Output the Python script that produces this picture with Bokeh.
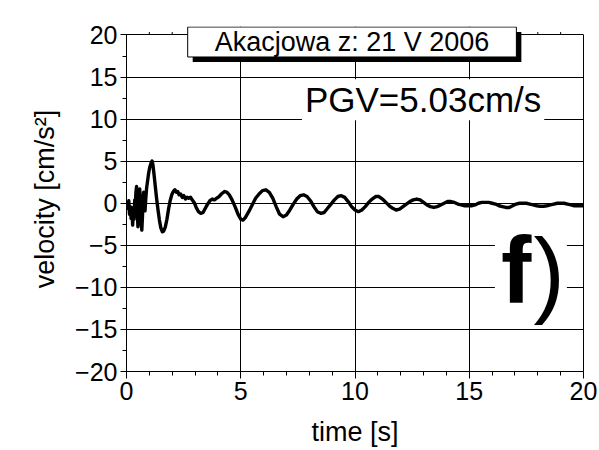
from bokeh.plotting import figure
from bokeh.models import (Range1d, SingleIntervalTicker, LinearAxis, Label,
                          ColumnDataSource, Grid)
from bokeh.embed import file_html
from bokeh.resources import INLINE

# ---- data ----
t_s = [0.00, 0.05, 0.10, 0.13, 0.17, 0.20, 0.24, 0.27, 0.30, 0.33, 0.36, 0.38,
       0.41, 0.44, 0.47, 0.50, 0.52, 0.55, 0.58, 0.61, 0.64, 0.67, 0.70, 0.72,
       0.75, 0.78, 0.81, 0.84, 0.88, 0.92, 0.97, 1.02, 1.08, 1.12, 1.16, 1.21,
       1.26, 1.32, 1.38, 1.44, 1.50, 1.57, 1.63, 1.70, 1.77, 1.84, 1.91, 1.98,
       2.05, 2.12, 2.18, 2.24, 2.30, 2.37, 2.44, 2.51, 2.58, 2.65, 2.72, 2.80,
       2.88, 2.96, 3.05, 3.15, 3.25, 3.35, 3.45, 3.55, 3.65, 3.75, 3.85, 3.95,
       4.05, 4.15, 4.30, 4.40, 4.50, 4.62, 4.75, 4.88, 5.00, 5.10, 5.20, 5.35,
       5.50, 5.65, 5.80, 5.95, 6.10, 6.25, 6.40, 6.55, 6.70, 6.85, 7.00, 7.15,
       7.30, 7.45, 7.60, 7.75, 7.90, 8.05, 8.20, 8.35, 8.50, 8.65, 8.80, 8.95,
       9.10, 9.25, 9.40, 9.55, 9.70, 9.85, 10.00, 10.15, 10.30, 10.45, 10.60,
       10.75, 10.90, 11.05, 11.20, 11.35, 11.50, 11.65, 11.80, 11.95, 12.10,
       12.25, 12.40, 12.55, 12.70, 12.85, 13.00, 13.15, 13.30, 13.45, 13.60,
       13.75, 13.90, 14.05, 14.20, 14.35, 14.50, 14.65, 14.80, 14.95, 15.10,
       15.25, 15.40, 15.55, 15.70, 15.85, 16.00, 16.15, 16.30, 16.45, 16.60,
       16.75, 16.90, 17.05, 17.20, 17.35, 17.50, 17.65, 17.80, 17.95, 18.10,
       18.25, 18.40, 18.55, 18.70, 18.85, 19.00, 19.15, 19.30, 19.45, 19.60,
       19.75, 19.90, 20.00]
vel = [0.0, -0.6, 0.3, -1.3, -0.4, -1.8, -0.8, -2.6, -0.5, -1.9, 0.4, -1.0,
       1.2, 2.0, -0.8, -2.8, -1.2, 0.9, 1.7, -0.6, -2.2, -3.2, -1.5, 0.5,
       1.3, 0.2, -0.9, 0.4, 1.8, 2.6, 3.6, 4.3, 4.8, 5.03, 4.5, 3.3,
       2.0, 0.5, -0.8, -2.0, -2.9, -3.4, -3.3, -2.8, -1.9, -0.7, 0.3, 1.0,
       1.4, 1.6, 1.3, 1.4, 1.0, 1.1, 0.7, 0.9, 0.5, 0.7, 0.6, 0.7,
       0.4, 0.1, -0.5, -1.0, -1.2, -1.1, -0.6, -0.1, 0.3, 0.5, 0.4, 0.6,
       0.8, 1.1, 1.4, 1.3, 1.0, 0.4, -0.4, -1.3, -1.9, -2.0, -1.7, -1.0,
       -0.2, 0.6, 1.1, 1.5, 1.6, 1.3, 0.6, -0.4, -1.3, -1.6, -1.4, -0.8,
       -0.1, 0.5, 0.9, 1.0, 0.8, 0.3, -0.4, -1.0, -1.2, -1.1, -0.6, -0.1,
       0.4, 0.8, 0.9, 0.7, 0.2, -0.4, -0.8, -1.0, -0.8, -0.4, 0.1,
       0.5, 0.8, 0.8, 0.5, 0.1, -0.3, -0.6, -0.8, -0.7, -0.4,
       -0.1, 0.2, 0.4, 0.5, 0.4, 0.1, -0.2, -0.4, -0.5, -0.4,
       -0.2, 0.0, 0.2, 0.2, 0.1, -0.1, -0.2, -0.3, -0.3, -0.3,
       -0.2, 0.0, 0.1, 0.1, 0.1, 0.0, -0.1, -0.3, -0.4, -0.5,
       -0.5, -0.3, -0.1, 0.0, 0.0, 0.0, -0.1, -0.2, -0.3, -0.35,
       -0.35, -0.3, -0.2, -0.1, 0.0, 0.0, 0.0, -0.1, -0.2, -0.3,
       -0.3, -0.3, -0.3]

x_limits = (0, 20)
y_limits = (-20, 20)
title_text = "Akacjowa z: 21 V 2006"
pgv_text = "PGV=5.03cm/s"
panel_letter = "f"
x_label = "time [s]"
y_label = "velocity [cm/s\u00b2]"

FONT = "Liberation Sans"

# the frame is extended a little above y=20 so the title box (which sits
# across the top border) is not clipped; the real border is drawn at y=20
Y_HEAD = 1.01

p = figure(width=599, height=450, output_backend="svg", toolbar_location=None,
           x_range=Range1d(*x_limits),
           y_range=Range1d(y_limits[0], y_limits[1] + Y_HEAD),
           min_border_left=126, min_border_right=16, min_border_top=26,
           min_border_bottom=79, x_axis_location=None, y_axis_location=None)
p.background_fill_color = "white"
p.border_fill_color = "white"
p.outline_line_color = None

xt = SingleIntervalTicker(interval=5, num_minor_ticks=5)
yt = SingleIntervalTicker(interval=5, num_minor_ticks=2)

xaxis = LinearAxis(ticker=xt, axis_label=x_label)
yaxis = LinearAxis(ticker=yt, axis_label=y_label, bounds=y_limits)
raxis = LinearAxis(ticker=yt, bounds=y_limits,
                   major_label_overrides={-20: "", -15: "", -10: "", -5: "",
                                          0: "", 5: "", 10: "", 15: "", 20: ""})
for ax in (xaxis, yaxis, raxis):
    ax.axis_line_color = "black"
    ax.axis_line_width = 1
    ax.major_tick_line_color = "black"
    ax.minor_tick_line_color = "black"
    ax.major_label_text_font = FONT
    ax.major_label_text_font_size = "25px"
    ax.major_label_text_color = "black"
    ax.axis_label_text_font = FONT
    ax.axis_label_text_font_size = "27px"
    ax.axis_label_text_font_style = "normal"
    ax.axis_label_text_color = "black"
xaxis.major_tick_out = 7
xaxis.major_tick_in = 0
xaxis.minor_tick_out = 4
xaxis.minor_tick_in = 0
xaxis.major_label_standoff = 3
xaxis.axis_label_standoff = 14
yaxis.major_tick_out = 6
yaxis.major_tick_in = 2
yaxis.minor_tick_out = 4
yaxis.minor_tick_in = 0
yaxis.major_label_standoff = 3
yaxis.axis_label_standoff = 12
raxis.major_tick_out = 0
raxis.major_tick_in = 0
raxis.minor_tick_out = 0
raxis.minor_tick_in = 0
raxis.major_label_standoff = 0

p.add_layout(xaxis, "below")
p.add_layout(yaxis, "left")
p.add_layout(raxis, "right")

# major grid (the y=20 grid line also forms the top border)
p.add_layout(Grid(dimension=0, ticker=xt, grid_line_color="black",
                  grid_line_width=1))
p.add_layout(Grid(dimension=1, ticker=yt, grid_line_color="black",
                  grid_line_width=1))

# outward minor ticks on the top border (3 px long)
top_minor = [float(k) for k in range(x_limits[0] + 1, x_limits[1])
             if k % 5 != 0]
tick_len = 3.0 / 8.4
p.segment(x0=top_minor, y0=[y_limits[1]] * len(top_minor),
          x1=top_minor, y1=[y_limits[1] + tick_len] * len(top_minor),
          line_color="black", line_width=1)

src = ColumnDataSource(data=dict(t=t_s, v=vel))
p.line("t", "v", source=src, line_color="black", line_width=3.4,
       line_join="round")

# PGV label with white background
p.add_layout(Label(x=12.98, y=12.3, text=pgv_text, text_font=FONT,
                   text_font_size="35px", text_align="center",
                   text_baseline="middle", text_color="black",
                   background_fill_color="white", padding=(3, 1)))

# panel letter "f)"
p.add_layout(Label(x=17.07, y=-8.0, text=panel_letter, text_font=FONT,
                   text_font_size="94px", text_font_style="bold",
                   text_align="center", text_baseline="middle",
                   text_color="black", background_fill_color="white",
                   padding=(6, 0)))
p.add_layout(Label(x=18.5, y=-8.2, text=")", text_font=FONT,
                   text_font_size="94px", text_align="center",
                   text_baseline="middle", text_color="black",
                   background_fill_color="white", padding=(2, 0)))

# title box with shadow
p.add_layout(Label(x=9.87, y=19.17, x_offset=5, y_offset=-5, text=title_text,
                   text_font=FONT, text_font_size="27px", text_align="center",
                   text_baseline="middle", text_color="black",
                   background_fill_color="black", padding=(27, 0)))
p.add_layout(Label(x=9.87, y=19.17, text=title_text, text_font=FONT,
                   text_font_size="27px", text_align="center",
                   text_baseline="middle", text_color="black",
                   background_fill_color="white", border_line_color="black",
                   border_line_width=1, padding=(27, 0)))

open("out.html", "w").write(file_html(p, INLINE))
